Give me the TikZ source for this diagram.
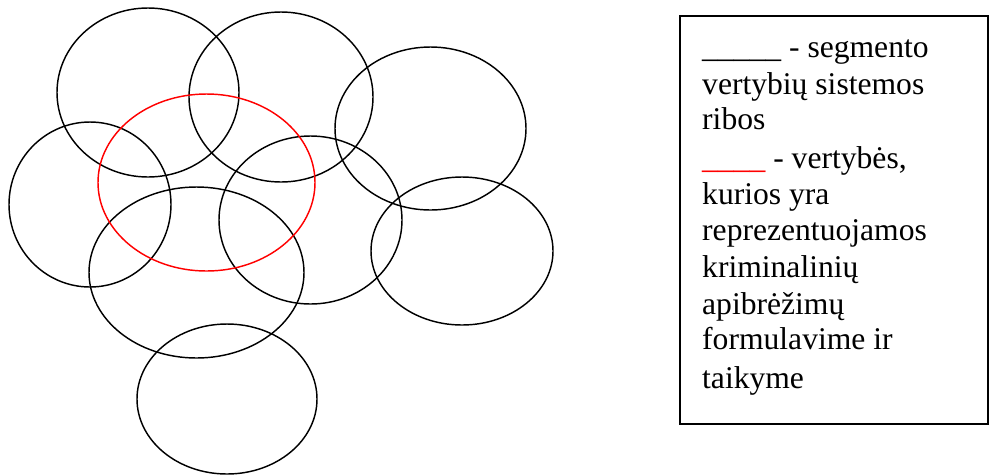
\documentclass[tikz,border=0pt]{standalone}
\usepackage{fontspec}
\setmainfont{Liberation Serif}
\begin{document}
\begin{tikzpicture}[x=1pt,y=-1pt,
  ring/.style={draw=black,line width=1.45pt},
  redring/.style={draw=red,line width=1.45pt},
  legendbox/.style={draw=black,line width=2pt},
  legline/.style={anchor=base west,inner sep=0pt,font=\fontsize{31.6}{36.8}\selectfont}]
\useasboundingbox (0,0) rectangle (990,475);
% black ellipses
\draw[ring] (148,92.5) ellipse [x radius=91,y radius=84.5];
\draw[ring] (281,97) ellipse [x radius=92,y radius=85];
\draw[ring] (430.5,128.5) ellipse [x radius=95.5,y radius=81.5];
\draw[ring] (90,204.5) ellipse [x radius=81,y radius=82.5];
\draw[ring] (310.5,220) ellipse [x radius=91.5,y radius=84];
\draw[ring] (462,251) ellipse [x radius=91,y radius=74];
\draw[ring] (196.5,272.5) ellipse [x radius=107.5,y radius=85.5];
\draw[ring] (227,399) ellipse [x radius=90,y radius=75];
% red ellipse
\draw[redring] (206.5,182.5) ellipse [x radius=108.5,y radius=88.5];
% legend
\draw[legendbox] (680,16) rectangle (988,424);
\node[legline] (l1) at (702,57) {\_\_\_\_\_ - segmento};
\node[legline] (l2) at (702,94) {vertybių sistemos};
\node[legline] (l3) at (702,129) {ribos};
\node[legline] (l4) at (702,168) {\textcolor{red}{\_\_\_\_} - vertybės,};
\node[legline] (l5) at (702,204) {kurios yra};
\node[legline] (l6) at (702,240) {reprezentuojamos};
\node[legline] (l7) at (702,277) {kriminalinių};
\node[legline] (l8) at (702,314) {apibrėžimų};
\node[legline] (l9) at (702,349) {formulavime ir};
\node[legline] (l10) at (702,388) {taikyme};
\end{tikzpicture}
\end{document}
